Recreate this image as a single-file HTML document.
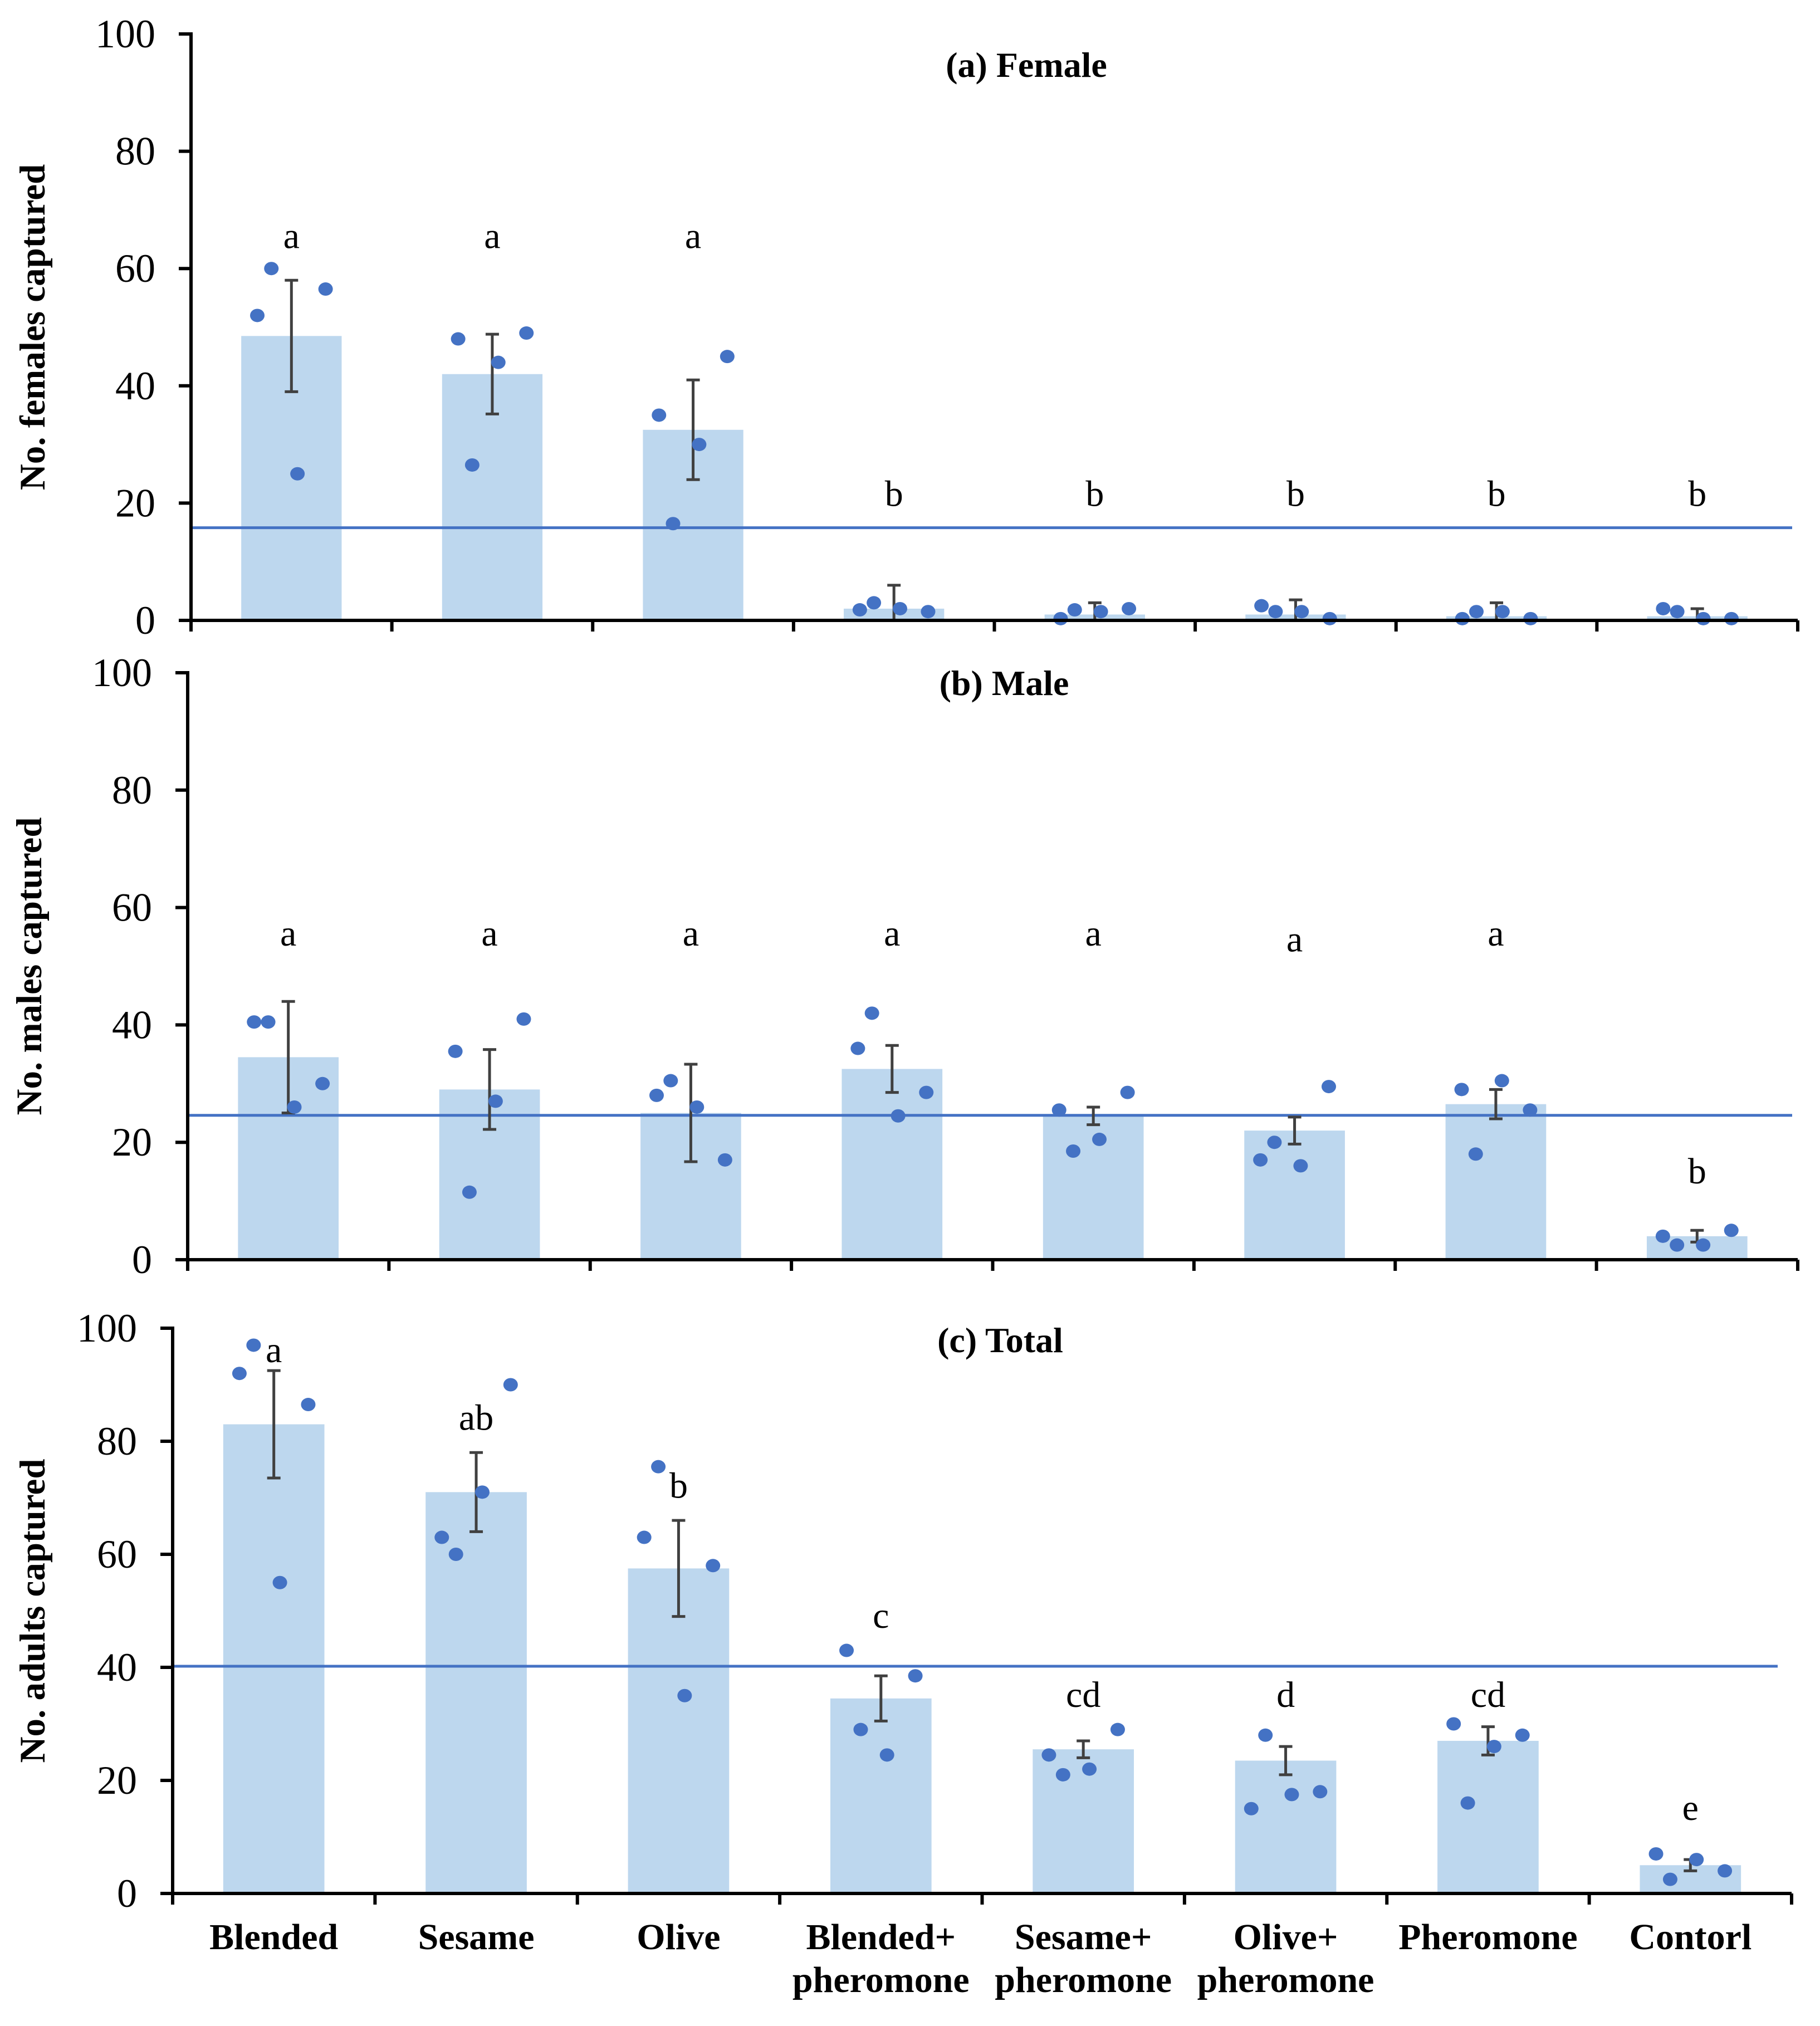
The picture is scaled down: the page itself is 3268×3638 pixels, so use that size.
<!DOCTYPE html>
<html><head><meta charset="utf-8"><style>
html,body{margin:0;padding:0;background:#fff}
svg{display:block}
text{font-family:"Liberation Serif",serif;fill:#000}
</style></head><body>
<svg id="chart" width="3268" height="3638" viewBox="0 0 3268 3638" xmlns="http://www.w3.org/2000/svg"></svg>
<script>
const categories = ["Blended","Sesame","Olive","Blended+|pheromone","Sesame+|pheromone","Olive+|pheromone","Pheromone","Contorl"];
const femaleMeans = [48.5,42,32.5,2,1,1,0.7,0.7];
const femaleErr = [9.5,6.8,8.5,4,2,2.5,2.3,1.3];
const femalePoints = [[52,60,25,56.5],[48,26.5,44,49],[35,16.5,30,45],[1.8,3,2,1.5],[0.3,1.8,1.5,2],[2.5,1.5,1.5,0.3],[0.3,1.5,1.5,0.3],[2,1.5,0.3,0.3]];
const femaleLetters = ["a","a","a","b","b","b","b","b"];
const femaleLetterY = [63.5,63.5,63.5,19.5,19.5,19.5,19.5,19.5];
const femaleRef = 15.8;
const maleMeans = [34.5,29,25,32.5,24.5,22,26.5,4];
const maleErr = [9.5,6.8,8.3,4,1.5,2.3,2.5,1];
const malePoints = [[40.5,40.5,26,30],[35.5,11.5,27,41],[28,30.5,26,17],[36,42,24.5,28.5],[25.5,18.5,20.5,28.5],[17,20,16,29.5],[29,18,30.5,25.5],[4,2.5,2.5,5]];
const maleLetters = ["a","a","a","a","a","a","a","b"];
const maleLetterY = [53.5,53.5,53.5,53.5,53.5,52.5,53.5,13];
const maleRef = 24.6;
const totalMeans = [83,71,57.5,34.5,25.5,23.5,27,5];
const totalErr = [9.5,7,8.5,4,1.5,2.5,2.5,1];
const totalPoints = [[92,97,55,86.5],[63,60,71,90],[63,75.5,35,58],[43,29,24.5,38.5],[24.5,21,22,29],[15,28,17.5,18],[30,16,26,28],[7,2.5,6,4]];
const totalLetters = ["a","ab","b","c","cd","d","cd","e"];
const totalLetterY = [94,82,70,47,33,33,33,13];
const totalRef = 40.2;
const yTicks = [0,20,40,60,80,100];
const jitter = [-0.17,-0.1,0.03,0.17];

const NS="http://www.w3.org/2000/svg";
const svg=document.getElementById('chart');
function mk(tag,attrs,parent){const e=document.createElementNS(NS,tag);for(const k in attrs)e.setAttribute(k,attrs[k]);(parent||svg).appendChild(e);return e;}

function panel(cfg){
  const g=mk('g',{});
  
  
  const x0=cfg.x0,x1=cfg.x1,yTop=cfg.yTop,yBot=cfg.yBot;
  const sy=v=>yBot-(v/100)*(yBot-yTop);
  const cw=(x1-x0)/categories.length;
  const cx=i=>x0+cw*(i+0.5);
  cfg.means.forEach((m,i)=>{
    const r=mk('rect',{x:cx(i)-cw*0.25,y:sy(m),width:cw*0.5,height:yBot-sy(m),fill:'#BDD7EE'},g);
    
    
  });
  const rl=mk('line',{x1:x0,x2:cfg.refEnd,y1:sy(cfg.ref),y2:sy(cfg.ref),stroke:'#4472C4','stroke-width':5},g);
  
  
  cfg.means.forEach((m,i)=>{
    const eg=mk('g',{stroke:'#404040','stroke-width':5},g);
    
    
    const lo=Math.max(0,m-cfg.err[i]),hi=m+cfg.err[i];
    mk('line',{x1:cx(i),x2:cx(i),y1:sy(lo),y2:sy(hi)},eg);
    mk('line',{x1:cx(i)-12,x2:cx(i)+12,y1:sy(hi),y2:sy(hi)},eg);
    if(m-cfg.err[i]>0.5) mk('line',{x1:cx(i)-12,x2:cx(i)+12,y1:sy(lo),y2:sy(lo)},eg);
  });
  cfg.points.forEach((ps,i)=>ps.forEach((v,j)=>{
    const c=mk('ellipse',{cx:cx(i)+jitter[j]*cw,cy:sy(v),rx:13,ry:12,fill:'#4472C4'},g);
    
    
  }));
  cfg.letters.forEach((l,i)=>{
    const t=mk('text',{x:cx(i),y:sy(cfg.letterY[i]),'font-size':66,'text-anchor':'middle'},g);
    t.textContent=l;
    
    
  });
  const ax=mk('g',{stroke:'#000','stroke-width':6},g);
  
  
  mk('line',{x1:x0,x2:x0,y1:yTop-3,y2:yBot+20},ax);
  mk('line',{x1:x0-3,x2:x1,y1:yBot,y2:yBot},ax);
  for(let i=0;i<=categories.length;i++) mk('line',{x1:x0+cw*i,x2:x0+cw*i,y1:yBot,y2:yBot+20},ax);
  yTicks.forEach(v=>{
    mk('line',{x1:x0-22,x2:x0,y1:sy(v),y2:sy(v)},ax);
    const t=mk('text',{x:x0-64,y:sy(v)+24,'font-size':72,'text-anchor':'end'},g);
    t.textContent=v;
    
    
  });
  const tt=mk('text',{x:cfg.titleX,y:cfg.titleY,'font-size':64,'font-weight':'bold','text-anchor':'middle'},g);
  tt.textContent=cfg.title;
  
  
  const yt=mk('text',{x:0,y:0,'font-size':65,'font-weight':'bold','text-anchor':'middle',transform:`translate(${cfg.ytX},${(yTop+yBot)/2}) rotate(-90)`},g);
  yt.textContent=cfg.ytitle;
  
  
  if(cfg.xlabels){
    categories.forEach((c,i)=>{
      const parts=c.split('|');
      parts.forEach((p,k)=>{
        const t=mk('text',{x:cx(i),y:3500+k*77,'font-size':66,'font-weight':'bold','text-anchor':'middle'},g);
        t.textContent=p;
        
        
      });
    });
  }
}
panel({name:'female-panel',x0:343,x1:3228,yTop:61,yBot:1114,refEnd:3218,means:femaleMeans,err:femaleErr,points:femalePoints,letters:femaleLetters,letterY:femaleLetterY,ref:femaleRef,title:'(a) Female',titleX:1843,titleY:138,ytitle:'No. females captured',ytX:80});
panel({name:'male-panel',x0:337,x1:3228,yTop:1208,yBot:2262,refEnd:3218,means:maleMeans,err:maleErr,points:malePoints,letters:maleLetters,letterY:maleLetterY,ref:maleRef,title:'(b) Male',titleX:1803,titleY:1248,ytitle:'No. males captured',ytX:74});
panel({name:'total-panel',x0:310,x1:3217,yTop:2385,yBot:3400,refEnd:3192,means:totalMeans,err:totalErr,points:totalPoints,letters:totalLetters,letterY:totalLetterY,ref:totalRef,title:'(c) Total',titleX:1796,titleY:2428,ytitle:'No. adults captured',ytX:80,xlabels:true});
</script>
</body></html>
